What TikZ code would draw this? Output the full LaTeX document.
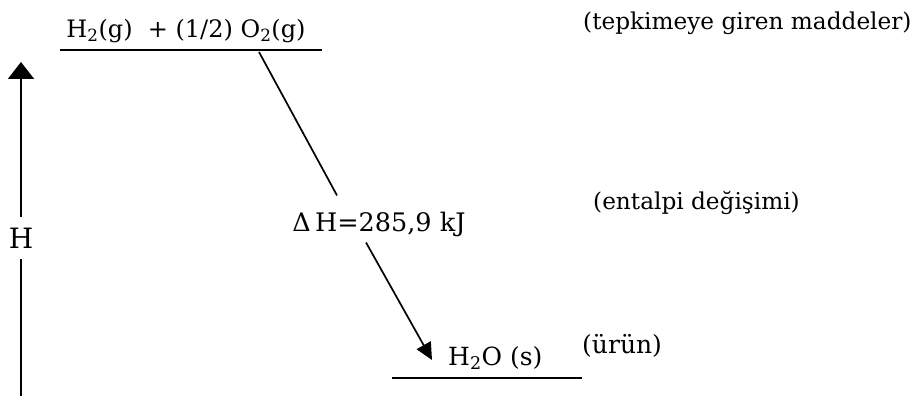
\documentclass[tikz,border=0pt]{standalone}
\usepackage{fontspec}
\setmainfont{DejaVu Serif}
\usetikzlibrary{arrows.meta}
\begin{document}
\begin{tikzpicture}[x=1pt,y=1pt,
  txt/.style={font=\fontsize{24}{28}\selectfont, inner sep=0pt},
  axislabel/.style={font=\fontsize{28}{32}\selectfont, inner sep=0pt, outer sep=11pt},
  lvl/.style={line width=1.9pt},
  conn/.style={line width=1.7pt},
  tip/.style={-{Triangle[width=16pt,length=17pt]}}]
\useasboundingbox (0,0) rectangle (917,396);

% axis
\node[axislabel] (H) at (21,158) {H};
\coordinate (ab) at (21,0);
\coordinate (at) at (21,334);
\draw[conn] (ab) -- (H.south);
\draw[conn,-{Triangle[width=26pt,length=17pt]}] (H.north) -- (at);

% reactants
\node[txt, anchor=base] (reac) at (186,358) {H\textsubscript{2}(g) \ + (1/2) O\textsubscript{2}(g)};
\coordinate (tl1) at (60,346);
\coordinate (tl2) at (322,346);
\draw[lvl] (tl1) -- (tl2);
\coordinate (c1s) at (259,344);

% enthalpy change
\node[txt, anchor=base, font=\fontsize{25.5}{30}\selectfont] (dh) at (379,164) {Δ\,H=285,9 kJ};
\draw[conn] (c1s) -- ([xshift=-42pt,yshift=17pt]dh.north);
\draw[conn,tip] ([xshift=-13pt,yshift=-5pt]dh.south) -- (432,36) coordinate (c2e);

% product
\node[txt, anchor=base west, font=\fontsize{25}{28}\selectfont] (prod) at (448,31) {H\textsubscript{2}O (s)};
\coordinate (bl1) at (392,18);
\coordinate (bl2) at (582,18);
\draw[lvl] (bl1) -- (bl2);

% side labels
\node[txt, anchor=base west, font=\fontsize{23.2}{28}\selectfont] (lr) at (583,366) {(tepkimeye giren maddeler)};
\node[txt, anchor=base west, font=\fontsize{23.2}{28}\selectfont] (le) at (593,186) {(entalpi değişimi)};
\node[txt, anchor=base west, font=\fontsize{25}{28}\selectfont] (lp) at (582,43) {(ürün)};
\end{tikzpicture}
\end{document}
